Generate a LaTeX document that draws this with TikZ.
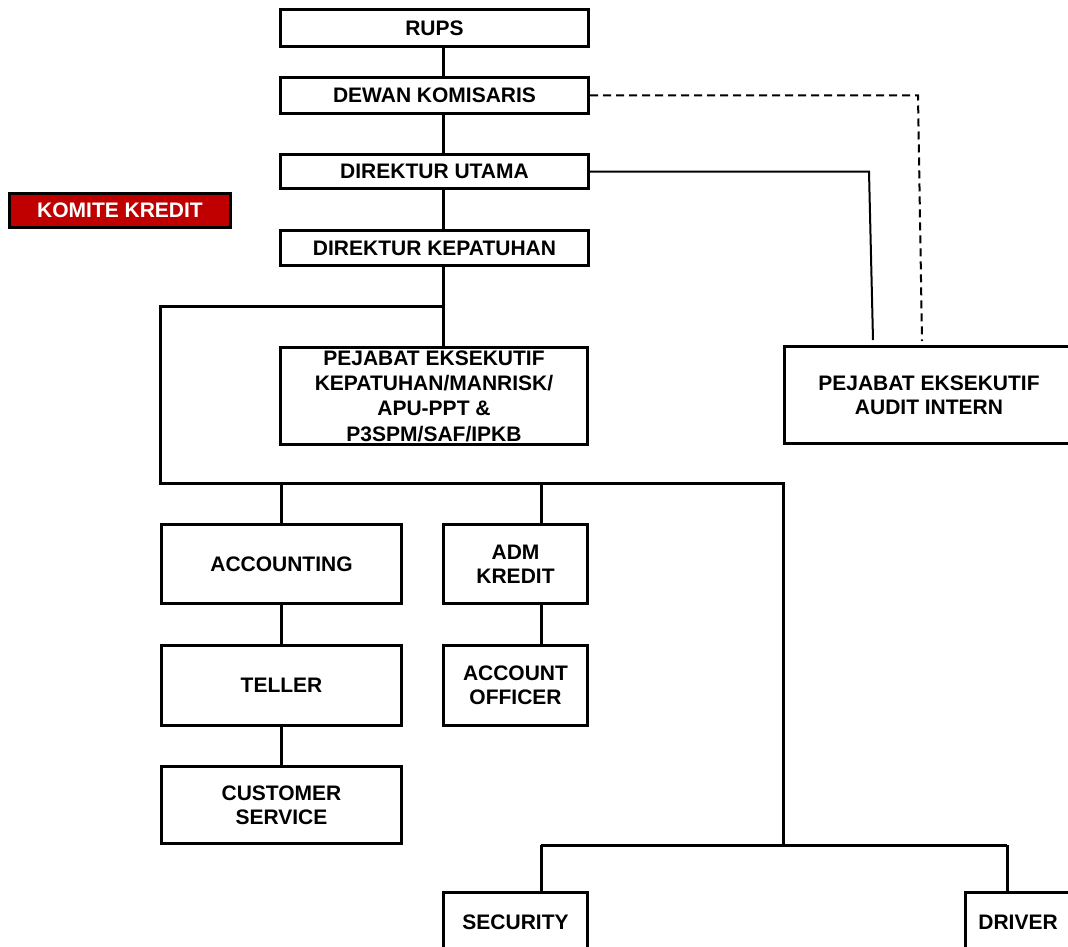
\documentclass[tikz,border=0pt]{standalone}
\usepackage{fontspec}
\setmainfont{Liberation Sans}
\definecolor{komitered}{RGB}{192, 0, 0}
\usetikzlibrary{calc}

\tikzset{
  unitbox/.style={draw=black, line width=3pt, fill=white, align=center, inner sep=0pt,
    font=\fontsize{21}{24}\selectfont\bfseries},
  link/.style={line width=3pt},
  auditlink/.style={line width=2pt}
}

\begin{document}
\begin{tikzpicture}[x=1pt, y=-1pt]
  \useasboundingbox (0,0) rectangle (1068,947);
  \fill[white] (0,0) rectangle (1068,947);
  \clip (0,0) rectangle (1068,947);

  % top of the chart
  \node[unitbox, minimum width=308pt, minimum height=37pt] (rups) at (434.5,28) {RUPS};
  \node[unitbox, minimum width=308pt, minimum height=36pt] (dk) at (434.5,95.5) {DEWAN KOMISARIS};
  \node[unitbox, minimum width=308pt, minimum height=34pt] (du) at (434.5,171.5) {DIREKTUR UTAMA};
  \node[unitbox, minimum width=308pt, minimum height=35pt] (dkp) at (434.5,248) {DIREKTUR KEPATUHAN};
  \node[unitbox, fill=komitered, text=white, minimum width=221pt, minimum height=34pt] (kk) at (120,210.5) {KOMITE KREDIT};

  \node[unitbox, font=\fontsize{21}{25.3}\selectfont\bfseries, minimum width=307pt, minimum height=97pt] (pek) at (434,396)
    {PEJABAT EKSEKUTIF\\KEPATUHAN/MANRISK/\\APU-PPT \&\\P3SPM/SAF/IPKB};
  \node[unitbox, minimum width=289pt, minimum height=97pt] (audit) at (929,395)
    {PEJABAT EKSEKUTIF\\AUDIT INTERN};

  % operational units
  \node[unitbox, minimum width=240pt, minimum height=79pt] (acc) at (281.5,564) {ACCOUNTING};
  \node[unitbox, minimum width=240pt, minimum height=80pt] (tel) at (281.5,685.5) {TELLER};
  \node[unitbox, minimum width=240pt, minimum height=77pt] (cs) at (281.5,805) {CUSTOMER\\SERVICE};
  \node[unitbox, minimum width=144pt, minimum height=79pt] (adm) at (515.5,564) {ADM\\KREDIT};
  \node[unitbox, minimum width=144pt, minimum height=80pt] (ao) at (515.5,685.5) {ACCOUNT\\OFFICER};
  \node[unitbox, minimum width=144pt, minimum height=59pt] (sec) at (515.5,922) {SECURITY};
  \node[unitbox, minimum width=105pt, minimum height=59pt] (drv) at (1018,922) {DRIVER};

  % line points
  \coordinate (spine) at (443,0);
  \coordinate (col2) at (541,0);
  \coordinate (topjoin) at (443,306);
  \coordinate (leftbus) at (160.5,306);
  \coordinate (botbus) at (160.5,483.5);
  \coordinate (rightbus) at (783,483.5);
  \coordinate (rightdrop) at (783,845);
  \coordinate (lowleft) at (541,845);
  \coordinate (lowright) at (1007,845);
  \coordinate (dkbend) at (918,0);
  \coordinate (dkend) at (922,341);
  \coordinate (dubend) at (869,0);
  \coordinate (duend) at (873,340);

  % main line
  \draw[link] (rups.south -| spine) -- (dk.north -| spine);
  \draw[link] (dk.south -| spine) -- (du.north -| spine);
  \draw[link] (du.south -| spine) -- (dkp.north -| spine);
  \draw[link] (dkp.south -| spine) -- (pek.north -| spine);
  \draw[link] (topjoin) -- (leftbus) -- (botbus) -- (rightbus) -- (rightdrop);

  \draw[link] (acc.north |- botbus) -- (acc.north);
  \draw[link] (acc.south) -- (tel.north);
  \draw[link] (tel.south) -- (cs.north);
  \draw[link] (botbus -| col2) -- (adm.north -| col2);
  \draw[link] (adm.south -| col2) -- (ao.north -| col2);

  \draw[link] (lowleft) -- (lowright);
  \draw[link] (lowleft) -- (sec.north -| lowleft);
  \draw[link] (lowright) -- (drv.north -| lowright);

  % audit lines
  \draw[auditlink] (du.east) -- (du.east -| dubend) -- (duend);
  \draw[auditlink, dash pattern=on 8pt off 5pt] (dk.east) -- (dk.east -| dkbend) -- (dkend);
\end{tikzpicture}
\end{document}
